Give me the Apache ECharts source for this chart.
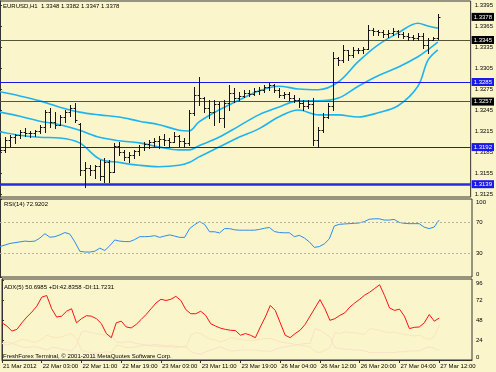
<!DOCTYPE html>
<html><head><meta charset="utf-8">
<script src="https://cdn.jsdelivr.net/npm/echarts@6/dist/echarts.min.js"></script>
<style>html,body{margin:0;padding:0;background:#fbf5cc}#c{width:496px;height:372px}</style>
</head><body><div id="c"></div>
<script>
// ---- data ----
const tickIdx = [0,8,16,24,32,40,48,56,64,72,80,88];
const tickLabels = ['21 Mar 2012','22 Mar 03:00','22 Mar 11:00','22 Mar 19:00','23 Mar 03:00','23 Mar 11:00','23 Mar 19:00','26 Mar 04:00','26 Mar 12:00','26 Mar 20:00','27 Mar 04:00','27 Mar 12:00'];
const priceTicks = [1.3125,1.3155,1.3185,1.3215,1.3245,1.3275,1.3305,1.3335,1.3365,1.3395];
const rsiTicks = [0,30,70,100];
const adxTicks = [0,24,48,72,96];

const openP  = [1.3199,1.3188,1.3202,1.3206,1.3209,1.3214,1.3212,1.3212,1.3215,1.3221,1.3242,1.3228,1.3224,1.3235,1.3242,1.3248,1.3225,1.3159,1.3162,1.3159,1.3165,1.3151,1.3171,1.3156,1.3194,1.3185,1.3178,1.3181,1.3186,1.3192,1.3196,1.3199,1.3201,1.3204,1.3202,1.3199,1.3208,1.3201,1.3198,1.3241,1.3266,1.3262,1.3248,1.3242,1.3254,1.3234,1.3255,1.3269,1.3262,1.3265,1.3269,1.3268,1.3272,1.3274,1.3278,1.3281,1.3274,1.3266,1.3268,1.3262,1.3259,1.3255,1.3251,1.3254,1.3202,1.3216,1.3235,1.3251,1.3319,1.3316,1.3331,1.3324,1.3331,1.3331,1.3332,1.3359,1.3358,1.3356,1.3354,1.3355,1.3358,1.3354,1.3351,1.3349,1.3348,1.3351,1.3338,1.3345,1.3348];
const highP  = [1.3205,1.3206,1.3209,1.3211,1.3216,1.3219,1.3215,1.3216,1.3224,1.3245,1.3248,1.3242,1.3238,1.3245,1.3252,1.3255,1.3226,1.3170,1.3166,1.3166,1.3174,1.3176,1.3174,1.3198,1.3199,1.3188,1.3185,1.3188,1.3195,1.3199,1.3202,1.3205,1.3208,1.3211,1.3205,1.3214,1.3209,1.3205,1.3245,1.3278,1.3292,1.3264,1.3259,1.3259,1.3256,1.3259,1.3281,1.3276,1.3271,1.3274,1.3274,1.3276,1.3278,1.3281,1.3284,1.3282,1.3276,1.3271,1.3271,1.3266,1.3262,1.3259,1.3259,1.3262,1.3221,1.3241,1.3255,1.3328,1.3321,1.3338,1.3331,1.3335,1.3334,1.3335,1.3366,1.3362,1.3359,1.3359,1.3359,1.3362,1.3359,1.3356,1.3355,1.3352,1.3355,1.3355,1.3348,1.3349,1.3382];
const lowP   = [1.3186,1.3185,1.3194,1.3198,1.3205,1.3208,1.3206,1.3208,1.3212,1.3214,1.3221,1.3219,1.3224,1.3228,1.3236,1.3228,1.3152,1.3135,1.3152,1.3148,1.3145,1.3142,1.3142,1.3156,1.3181,1.3174,1.3171,1.3176,1.3181,1.3188,1.3191,1.3194,1.3191,1.3195,1.3194,1.3199,1.3194,1.3192,1.3195,1.3238,1.3252,1.3242,1.3234,1.3224,1.3228,1.3221,1.3245,1.3256,1.3259,1.3264,1.3265,1.3266,1.3268,1.3271,1.3274,1.3271,1.3264,1.3262,1.3259,1.3256,1.3249,1.3245,1.3248,1.3195,1.3192,1.3214,1.3234,1.3245,1.3309,1.3314,1.3316,1.3321,1.3326,1.3326,1.3332,1.3352,1.3352,1.3349,1.3349,1.3352,1.3349,1.3348,1.3345,1.3345,1.3345,1.3334,1.3326,1.3345,1.3347];
const closeP = [1.3188,1.3202,1.3206,1.3209,1.3214,1.3212,1.3212,1.3215,1.3221,1.3242,1.3228,1.3224,1.3235,1.3242,1.3248,1.3231,1.3159,1.3162,1.3159,1.3165,1.3151,1.3171,1.3156,1.3194,1.3185,1.3178,1.3181,1.3186,1.3192,1.3196,1.3199,1.3201,1.3204,1.3202,1.3199,1.3208,1.3201,1.3198,1.3241,1.3266,1.3262,1.3248,1.3242,1.3254,1.3234,1.3255,1.3269,1.3262,1.3265,1.3269,1.3268,1.3272,1.3274,1.3278,1.3281,1.3274,1.3266,1.3268,1.3262,1.3259,1.3255,1.3251,1.3254,1.3202,1.3216,1.3235,1.3251,1.3319,1.3316,1.3331,1.3324,1.3331,1.3331,1.3332,1.3359,1.3358,1.3356,1.3354,1.3355,1.3358,1.3354,1.3351,1.3349,1.3348,1.3351,1.3338,1.3345,1.3348,1.3378];

const bbIdx    = [0,4,8,12,16,20,24,28,32,36,38,40,44,48,52,56,60,64,68,72,76,80,84,86,88];
const bbUpper  = [1.3271,1.3265,1.3258,1.3249,1.3242,1.3238,1.3235,1.3229,1.3224,1.3216,1.3215,1.3228,1.3245,1.3259,1.3272,1.3279,1.3275,1.3274,1.3285,1.3314,1.3338,1.3355,1.3369,1.3365,1.3362];
const bbMiddle = [1.3242,1.3236,1.3229,1.3224,1.3216,1.3206,1.3201,1.3198,1.3192,1.3188,1.3188,1.3194,1.3206,1.3222,1.3238,1.3249,1.3258,1.3258,1.3262,1.3279,1.3294,1.3306,1.3321,1.3331,1.3342];
const bbLower  = [1.3214,1.3209,1.3206,1.3205,1.3198,1.3175,1.3170,1.3166,1.3164,1.3166,1.3170,1.3178,1.3192,1.3206,1.3218,1.3235,1.3245,1.3238,1.3238,1.3235,1.3241,1.3251,1.3279,1.3316,1.3331];

const rsi = [39,41,43,44,45,46,45.5,46,50,55.5,51,51.7,54,57,55,45,33,32,32,33,37,34,40,47.5,46,45.4,45.4,48,51.7,51.7,52,53,50.8,52.5,54,52.5,50.8,50.8,62,67,71,67.5,58,58,56.5,62,62,60.5,60,60,60,60,61,62.5,63.5,58.3,57,56.7,56.7,51.7,53.4,50,45,38,39,42.5,48.8,65.4,67.5,68,68.4,68.8,69.3,71,74,74.6,74.6,73,73,73.8,70,68.8,68.4,68.4,68.4,64,62,64,72.9];
const adx = [45,41,35,37,45,52,58,65,76,78,62,52,53,59,62,45,50,53.6,53,50,44,32,27,45,47,40,38.8,43,49,55,62,69,73.5,72,73.5,77,72,61,56,56,59,54,44,41,38.5,37,36,35.5,30,32,30,27,40,52,66,60,45,30,27,32,36,43,53,63,73,62,48,50,54,57,64,69,73.5,78.5,82,86.5,91,78,63,60,61.5,53,38,39.5,40,45,55,47,50.7];
const plusDI = [20,18,20,22,25,24,22,22,25,30,28,27,28,30,32,25,12,10,9,8,9,10,9,18,17,15,15,16,17,18,18,19,18,17,18,17,16,15,30,33,32,28,25,24,22,24,27,26,25,24,24,24,25,26,26,24,22,21,20,19,18,17,16,10,9,12,15,33,32,34,33,33,32,31,38,37,36,34,33,34,32,31,30,29,30,27,25,28,42.8];
const minusDI = [20,22,20,18,16,15,16,16,14,12,15,15,13,12,11,18,34,35,33,32,31,30,30,22,21,22,22,20,19,18,17,17,16,16,16,15,16,17,10,8,7,10,12,14,16,13,11,11,12,12,12,12,11,11,10,13,15,16,17,18,19,20,20,38,36,32,28,15,14,13,13,12,12,11,9,9,9,9,9,9,10,10,11,11,11,14,16,14,11.7];

// price levels drawn as horizontal lines with right-hand tags
const levelValues = [1.3345, 1.3285, 1.3257, 1.3192, 1.3139, 1.3378];
const levelKinds  = ['dark', 'blue', 'dark', 'blue', 'blueThick', 'tagOnly'];

// ---- chart ----
const FONT = 'Liberation Sans';
const BG = '#fbf5cc';
const ohlc = openP.map((o, i) => [i, o, highP[i], lowP[i], closeP[i]]);
const pair = (idx, arr) => idx.map((x, k) => [x, arr[k]]);
const seq = arr => arr.map((v, i) => [i, v]);

const xBase = {type:'value', min:0, max:94.6, axisLine:{show:false}, axisTick:{show:false}, axisLabel:{show:false}, splitLine:{show:false}};
const gridBase = {left:0, width:472, show:true, borderColor:'#333', borderWidth:1, backgroundColor:'transparent'};
const yLab = {fontSize:6, color:'#000', fontFamily:FONT, margin:4};

const kindStyle = {
  dark:      {line:'#55553a', width:1,   bg:'#000'},
  blue:      {line:'#1515e6', width:1.2, bg:'#1a1ae8'},
  blueThick: {line:'#2a2ae0', width:2.5, bg:'#1a1ae8'},
  tagOnly:   {line:'rgba(0,0,0,0)', width:0, bg:'#000'}
};
const levelLines = levelValues.map((v, k) => {
  const s = kindStyle[levelKinds[k]];
  return {yAxis: v, lineStyle:{color: s.line, width: s.width, type:'solid'},
    label:{show:true, position:'end', distance:1, formatter: v.toFixed(4), backgroundColor: s.bg, color:'#fff',
           fontSize:6, fontFamily:FONT, padding:[1,2,1,2]}};
});

const chart = echarts.init(document.getElementById('c'), null, {renderer:'canvas'});
chart.setOption({
  backgroundColor: BG,
  animation: false,
  title: [
    {text:'EURUSD,H1  1.3348 1.3382 1.3347 1.3378', left:3, top:3, padding:0, textStyle:{fontSize:6, fontWeight:'normal', color:'#000', fontFamily:FONT}},
    {text:'RSI(14) 72.9202', left:4, top:201, padding:0, textStyle:{fontSize:6, fontWeight:'normal', color:'#000', fontFamily:FONT}},
    {text:'ADX(5) 50.6985 +DI:42.8358 -DI:11.7231', left:4, top:284, padding:0, textStyle:{fontSize:6, fontWeight:'normal', color:'#000', fontFamily:FONT}},
    {text:'FreshForex Terminal, © 2001-2011 MetaQuotes Software Corp.', left:3, top:353, padding:0, textStyle:{fontSize:6, fontWeight:'normal', color:'#000', fontFamily:FONT}}
  ],
  grid: [
    Object.assign({top:1, height:196}, gridBase),
    Object.assign({top:199, height:78}, gridBase),
    Object.assign({top:279, height:81}, gridBase)
  ],
  xAxis: [
    Object.assign({gridIndex:0}, xBase),
    Object.assign({gridIndex:1}, xBase),
    {gridIndex:2, type:'value', min:0, max:94.6,
     axisLine:{show:true, lineStyle:{color:'#333'}},
     axisTick:{show:true, length:3, customValues: tickIdx, lineStyle:{color:'#333'}},
     axisLabel:{show:true, customValues: tickIdx, formatter: v => tickLabels[tickIdx.indexOf(Math.round(v))] || '',
       fontSize:6, color:'#000', fontFamily:FONT, align:'left', margin:3, padding:[0,0,0,1]},
     splitLine:{show:false}}
  ],
  yAxis: [
    {gridIndex:0, type:'value', position:'right', min:1.31207, max:1.34007,
     axisLine:{show:true, lineStyle:{color:'#333'}}, axisTick:{show:true, length:2, customValues: priceTicks, lineStyle:{color:'#333'}},
     axisLabel:Object.assign({customValues: priceTicks, formatter: v => v.toFixed(4)}, yLab), splitLine:{show:false}},
    {gridIndex:1, type:'value', position:'right', min:0, max:100,
     axisLine:{show:true, lineStyle:{color:'#333'}}, axisTick:{show:true, length:2, customValues: rsiTicks, lineStyle:{color:'#333'}},
     axisLabel:Object.assign({customValues: rsiTicks, verticalAlignMaxLabel:'top', verticalAlignMinLabel:'bottom'}, yLab), splitLine:{show:false}},
    {gridIndex:2, type:'value', position:'right', min:0, max:98,
     axisLine:{show:true, lineStyle:{color:'#333'}}, axisTick:{show:true, length:2, customValues: adxTicks, lineStyle:{color:'#333'}},
     axisLabel:Object.assign({customValues: adxTicks, verticalAlignMaxLabel:'top', verticalAlignMinLabel:'bottom'}, yLab), splitLine:{show:false}}
  ],
  series: [
    {type:'line', xAxisIndex:0, yAxisIndex:0, data: pair(bbIdx, bbLower), smooth:0.35, showSymbol:false, lineStyle:{color:'#1eb4f0', width:1.6}, z:2},
    {type:'line', xAxisIndex:0, yAxisIndex:0, data: pair(bbIdx, bbMiddle), smooth:0.35, showSymbol:false, lineStyle:{color:'#1eb4f0', width:1.6}, z:2},
    {type:'line', xAxisIndex:0, yAxisIndex:0, data: pair(bbIdx, bbUpper), smooth:0.35, showSymbol:false, lineStyle:{color:'#1eb4f0', width:1.6}, z:2,
     markLine:{silent:true, precision:5, symbol:['none','none'], animation:false, data: levelLines}},
    {type:'custom', xAxisIndex:0, yAxisIndex:0, data: ohlc, encode:{x:0, y:[1,2,3,4]}, z:5,
     renderItem: function (params, api) {
       const x = api.value(0);
       const o = api.coord([x, api.value(1)]);
       const h = api.coord([x, api.value(2)]);
       const l = api.coord([x, api.value(3)]);
       const c = api.coord([x, api.value(4)]);
       const px = Math.round(o[0]) + 0.5;
       const st = {stroke:'#141414', lineWidth:1};
       return {type:'group', children:[
         {type:'line', shape:{x1:px, y1:Math.round(h[1]), x2:px, y2:Math.round(l[1])+1}, style:st},
         {type:'line', shape:{x1:px-2, y1:Math.round(o[1])+0.5, x2:px, y2:Math.round(o[1])+0.5}, style:st},
         {type:'line', shape:{x1:px, y1:Math.round(c[1])+0.5, x2:px+2, y2:Math.round(c[1])+0.5}, style:st}
       ]};
     }},
    {type:'line', xAxisIndex:1, yAxisIndex:1, data: seq(rsi), showSymbol:false, lineStyle:{color:'#2a8cf0', width:1},
     markLine:{silent:true, precision:2, symbol:['none','none'], label:{show:false}, lineStyle:{color:'#b8b3a0', type:[2,2], width:1}, data:[{yAxis:70},{yAxis:30}]}},
    {type:'line', xAxisIndex:2, yAxisIndex:2, data: seq(plusDI), showSymbol:false, lineStyle:{color:'#f6e6c2', width:1}},
    {type:'line', xAxisIndex:2, yAxisIndex:2, data: seq(minusDI), showSymbol:false, lineStyle:{color:'#f7e2c8', width:1}},
    {type:'line', xAxisIndex:2, yAxisIndex:2, data: seq(adx), showSymbol:false, lineStyle:{color:'#ff1010', width:1}}
  ]
});
</script></body></html>
